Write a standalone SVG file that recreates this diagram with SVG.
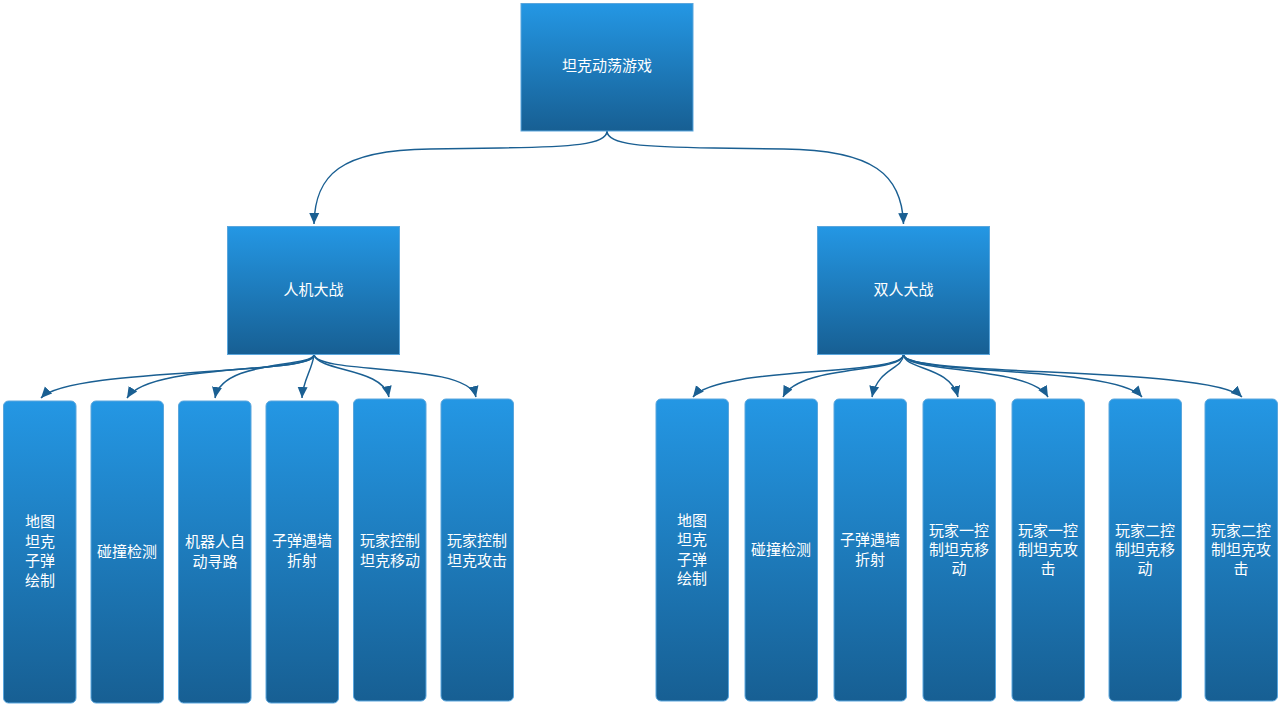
<svg xmlns="http://www.w3.org/2000/svg" width="1281" height="707" viewBox="0 0 1281 707">
<defs>
<linearGradient id="g" x1="0" y1="0" x2="0" y2="1">
<stop offset="0" stop-color="#2497e4"/>
<stop offset="1" stop-color="#175f93"/>
</linearGradient>
<marker id="ah" markerUnits="userSpaceOnUse" markerWidth="12" markerHeight="12" viewBox="0 0 12 10" refX="11" refY="5" orient="auto">
<path d="M0,0 L11,5 L0,10 Z" fill="#1a5f92"/>
</marker>
</defs>
<style>
.n{fill:url(#g);stroke:#5aa6dd;stroke-width:1}
.t{font-family:"Noto Sans CJK SC","Noto Sans",sans-serif;font-size:15px;fill:#ffffff;text-anchor:middle;dominant-baseline:central}
.e{fill:none;stroke:#1a5f92;stroke-width:1.5;marker-end:url(#ah)}
</style>
<rect width="1281" height="707" fill="#ffffff"/>
<g id="connectors">
<path class="e" d="M607,131 C607,145 570,147 500,148 L430,149 C340,150 315,175 314,224"/>
<path class="e" d="M607,131 C607,145 644,147 714,148 L784,149 C874,150 902,175 903.5,224"/>
<path class="e" d="M314,355 C314,376 70,367 41,398"/>
<path class="e" d="M314,355 C314,374 150,362 127,398"/>
<path class="e" d="M314,355 C308,368 222,360 215,398"/>
<path class="e" d="M314,355 C312,370 303,380 302,398"/>
<path class="e" d="M314,355 C320,372 383,368 389,397"/>
<path class="e" d="M314,355 C320,375 468,362 476,397"/>
<path class="e" d="M903.5,355 C900,376 718,366 693,397"/>
<path class="e" d="M903.5,355 C900,374 800,364 783,397"/>
<path class="e" d="M903.5,355 C902,370 878,368 872,397"/>
<path class="e" d="M903.5,355 C906,370 950,366 958,397"/>
<path class="e" d="M903.5,355 C907,373 1030,366 1048,397"/>
<path class="e" d="M903.5,355 C907,375 1115,366 1142,397"/>
<path class="e" d="M903.5,355 C907,377 1210,366 1242,397"/>
</g>
<g id="root"><rect class="n" x="521" y="3.5" width="172" height="127.5"/><text class="t" x="607" y="64">坦克动荡游戏</text></g>
<g id="pve"><rect class="n" x="227.5" y="226.5" width="172" height="128"/><text class="t" x="313.5" y="288.5">人机大战</text></g>
<g id="pvp"><rect class="n" x="817.5" y="226.5" width="172" height="128"/><text class="t" x="903.5" y="288.5">双人大战</text></g>
<g id="l1"><rect class="n" x="3.5" y="401" width="72.5" height="302" rx="5"/><text class="t" x="40" y="520.5">地图</text><text class="t" x="40" y="540">坦克</text><text class="t" x="40" y="559.5">子弹</text><text class="t" x="40" y="579">绘制</text></g>
<g id="l2"><rect class="n" x="91" y="401" width="72.5" height="302" rx="5"/><text class="t" x="127" y="550">碰撞检测</text></g>
<g id="l3"><rect class="n" x="178.5" y="401" width="72.5" height="302" rx="5"/><text class="t" x="215" y="540">机器人自</text><text class="t" x="215" y="560">动寻路</text></g>
<g id="l4"><rect class="n" x="266" y="401" width="72.5" height="302" rx="5"/><text class="t" x="302" y="539.5">子弹遇墙</text><text class="t" x="302" y="559.5">折射</text></g>
<g id="l5"><rect class="n" x="353.5" y="399" width="72.5" height="302" rx="5"/><text class="t" x="390" y="539.5">玩家控制</text><text class="t" x="390" y="559.5">坦克移动</text></g>
<g id="l6"><rect class="n" x="441" y="399" width="72.5" height="302" rx="5"/><text class="t" x="477" y="539.5">玩家控制</text><text class="t" x="477" y="559.5">坦克攻击</text></g>
<g id="r1"><rect class="n" x="656" y="399" width="72.5" height="302" rx="5"/><text class="t" x="692" y="519">地图</text><text class="t" x="692" y="538.5">坦克</text><text class="t" x="692" y="558">子弹</text><text class="t" x="692" y="577.5">绘制</text></g>
<g id="r2"><rect class="n" x="745" y="399" width="72.5" height="302" rx="5"/><text class="t" x="781" y="548.5">碰撞检测</text></g>
<g id="r3"><rect class="n" x="834" y="399" width="72.5" height="302" rx="5"/><text class="t" x="870" y="538.5">子弹遇墙</text><text class="t" x="870" y="558.5">折射</text></g>
<g id="r4"><rect class="n" x="923" y="399" width="72.5" height="302" rx="5"/><text class="t" x="959" y="529.5">玩家一控</text><text class="t" x="959" y="548.5">制坦克移</text><text class="t" x="959" y="567.5">动</text></g>
<g id="r5"><rect class="n" x="1012" y="399" width="72.5" height="302" rx="5"/><text class="t" x="1048" y="529.5">玩家一控</text><text class="t" x="1048" y="548.5">制坦克攻</text><text class="t" x="1048" y="567.5">击</text></g>
<g id="r6"><rect class="n" x="1109" y="399" width="72.5" height="302" rx="5"/><text class="t" x="1145" y="529.5">玩家二控</text><text class="t" x="1145" y="548.5">制坦克移</text><text class="t" x="1145" y="567.5">动</text></g>
<g id="r7"><rect class="n" x="1205" y="399" width="72.5" height="302" rx="5"/><text class="t" x="1241" y="529.5">玩家二控</text><text class="t" x="1241" y="548.5">制坦克攻</text><text class="t" x="1241" y="567.5">击</text></g>
</svg>
